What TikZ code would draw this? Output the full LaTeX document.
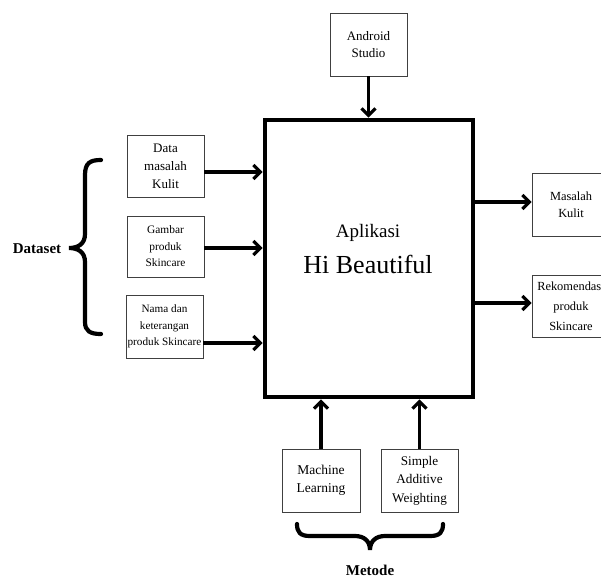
\documentclass[tikz,border=0pt]{standalone}
\usepackage{fontspec}
\setmainfont{Liberation Serif}
\usetikzlibrary{arrows.meta,calc}

\newcommand{\fs}[2]{\fontsize{#1}{#2}\selectfont}

\begin{document}
\begin{tikzpicture}[x=1pt,y=-1pt,
  box/.style={draw=black!75, line width=0.7pt, align=center, inner sep=1pt, fill=white},
  appbox/.style={draw=black, line width=4.6pt},
  arr/.style={line width=3.2pt, -{Straight Barb[length=7pt,width=14pt]}},
  brace/.style={line width=4.2pt, line cap=round}
]
\useasboundingbox (0,0) rectangle (601,576);

% central application block
\node[appbox, minimum width=208pt, minimum height=277pt] (main) at (369,258.5) {};
\node[font=\fs{19}{22}] (apl) at (368,233) {Aplikasi};
\node[font=\fs{26}{30}] (hib) at (368,264) {Hi Beautiful};

% tool on top
\node[box, minimum width=77pt, minimum height=63pt, font=\fs{13}{17}] (android) at (368.5,44.5) {Android\\Studio};

% dataset inputs
\node[box, minimum width=77pt, minimum height=62pt, font=\fs{13}{18}] (data) at (165.5,166) {Data\\masalah\\Kulit};
\node[box, minimum width=77pt, minimum height=61pt, font=\fs{11.4}{16.5}] (gambar) at (165.5,246.5) {Gambar\\produk\\Skincare};
\node[box, minimum width=77pt, minimum height=63pt, font=\fs{11.2}{16.5}] (nama) at (164.5,326.5) {Nama dan\\keterangan\\produk Skincare};

% outputs
\node[box, minimum width=78pt, minimum height=63pt, font=\fs{12.4}{17}] (masalah) at (571,204.5) {Masalah\\Kulit};
\node[box, minimum width=78pt, minimum height=62pt, font=\fs{12.4}{20}] (rekom) at (571,306) {Rekomendasi\\produk\\Skincare};

% methods
\node[box, minimum width=78pt, minimum height=63pt, font=\fs{13.5}{18}] (ml) at (321,480.5) {Machine\\Learning};
\node[box, minimum width=77pt, minimum height=63pt, font=\fs{13.2}{18.5}] (saw) at (419.5,480.5) {Simple\\Additive\\Weighting};

% group labels
\node[font=\bfseries\fs{15}{18}] (dataset) at (37,249) {Dataset};
\node[font=\bfseries\fs{15}{18}, anchor=base] (metode) at (370,575.5) {Metode};

% connectors
\draw[arr] (android.south) -- (android.south |- main.north);
\draw[arr] ([yshift=-6pt]data.east) -- ([yshift=-6pt]data.east -| main.west);
\draw[arr] ([yshift=-1.5pt]gambar.east) -- ([yshift=-1.5pt]gambar.east -| main.west);
\draw[arr] ([yshift=-16.5pt]nama.east) -- ([yshift=-16.5pt]nama.east -| main.west);
\draw[arr] ([yshift=2.5pt]masalah.west -| main.east) -- ([yshift=2.5pt]masalah.west);
\draw[arr] ([yshift=3pt]rekom.west -| main.east) -- ([yshift=3pt]rekom.west);
\draw[arr] (ml.north) -- (ml.north |- main.south);
\draw[arr] (saw.north) -- (saw.north |- main.south);

% curly brace grouping the datasets
\draw[brace] (101,160) .. controls (90,160) and (85,163) .. (85,175)
  -- (85,234) .. controls (85,244) and (78,248) .. (69,248)
  .. controls (78,248) and (85,252) .. (85,262)
  -- (85,322) .. controls (85,331) and (90,334) .. (101,334);

% curly brace grouping the methods
\draw[brace] (297,524) .. controls (297,532) and (300,536) .. (310,536)
  -- (355,536) .. controls (364,536) and (370,541) .. (370,550)
  .. controls (370,541) and (376,536) .. (385,536)
  -- (430,536) .. controls (440,536) and (443,532) .. (443,524);
\end{tikzpicture}
\end{document}
